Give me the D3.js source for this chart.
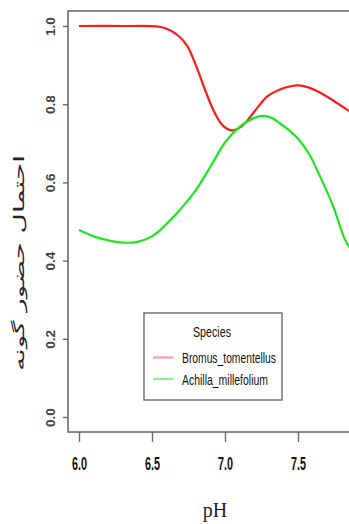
<!DOCTYPE html>
<html>
<head>
<meta charset="utf-8">
<script src="https://cdn.jsdelivr.net/npm/d3@7"></script>
<style>
  html, body { margin: 0; padding: 0; background: #fff; overflow: hidden; }
  svg { display: block; }
</style>
</head>
<body>
<svg id="chart" width="349" height="524"></svg>
<script>
// Predicted occurrence probability of two species along a pH gradient
const speciesNames = ["Bromus_tomentellus", "Achilla_millefolium"];
const speciesColors = ["#ff1a1a", "#1ee61e"];
const legendColors = ["#ff9a9a", "#8fee8f"];

const bromusPH  = [6.0, 6.3, 6.55, 6.62, 6.68, 6.74, 6.8, 6.86, 6.92, 6.97, 7.01, 7.05, 7.1, 7.15, 7.22, 7.29, 7.38, 7.45, 7.5, 7.57, 7.65, 7.73, 7.82, 7.86];
const bromusProb = [1.0, 1.0, 0.998, 0.99, 0.975, 0.95, 0.9, 0.84, 0.785, 0.752, 0.738, 0.733, 0.74, 0.757, 0.79, 0.82, 0.838, 0.846, 0.848, 0.843, 0.83, 0.812, 0.79, 0.78];

const achillaPH  = [6.0, 6.1, 6.2, 6.3, 6.4, 6.5, 6.55, 6.6, 6.67, 6.75, 6.8, 6.9, 7.0, 7.1, 7.2, 7.26, 7.32, 7.38, 7.45, 7.51, 7.58, 7.65, 7.74, 7.82, 7.86];
const achillaProb = [0.478, 0.462, 0.452, 0.446, 0.448, 0.462, 0.476, 0.494, 0.521, 0.556, 0.58, 0.64, 0.702, 0.742, 0.765, 0.77, 0.765, 0.75, 0.73, 0.708, 0.67, 0.616, 0.54, 0.455, 0.43];

const xTicks = [6.0, 6.5, 7.0, 7.5];
const yTicks = [0.0, 0.2, 0.4, 0.6, 0.8, 1.0];
const xTitle = "pH";
const yTitle = "احتمال حضور گونه";
const legendTitle = "Species";

const svg = d3.select("#chart");

const frameLeft = 68, frameTop = 11, frameBottom = 432, frameRight = 362;
const x = d3.scaleLinear().domain([6.0, 7.5]).range([79, 298]);
const y = d3.scaleLinear().domain([0, 1]).range([417, 26]);

const axisColor = "#6a6a6a";

// clip for curves
svg.append("defs").append("clipPath").attr("id", "plotClip")
  .append("rect").attr("x", frameLeft).attr("y", frameTop)
  .attr("width", frameRight - frameLeft).attr("height", frameBottom - frameTop);

// plot frame
svg.append("rect")
  .attr("x", frameLeft).attr("y", frameTop)
  .attr("width", frameRight - frameLeft).attr("height", frameBottom - frameTop)
  .attr("fill", "none").attr("stroke", axisColor).attr("stroke-width", 1.6);

// y axis ticks
const yAxis = d3.axisLeft(y).tickValues(yTicks).tickSize(5).tickFormat(d3.format(".1f"));
const gy = svg.append("g").attr("transform", `translate(${frameLeft},0)`).call(yAxis);
gy.select(".domain").remove();
gy.selectAll(".tick line").attr("stroke", axisColor).attr("stroke-width", 1.4);
gy.selectAll(".tick text")
  .attr("x", 0).attr("dy", null)
  .attr("transform", "translate(-13,0) rotate(-90)")
  .attr("text-anchor", "middle")
  .attr("font-family", "Liberation Sans, Arial, sans-serif")
  .attr("font-size", 13.5)
  .attr("font-weight", "bold")
  .attr("fill", "#444");

// x axis ticks
const xAxis = d3.axisBottom(x).tickValues(xTicks).tickSize(10).tickFormat(d3.format(".1f"));
const gx = svg.append("g").attr("transform", `translate(0,${frameBottom})`).call(xAxis);
gx.select(".domain").remove();
gx.selectAll(".tick line").attr("stroke", axisColor).attr("stroke-width", 1.4);
gx.selectAll(".tick text")
  .attr("y", 38).attr("dy", null)
  .attr("font-family", "Liberation Sans Narrow, Liberation Sans, Arial, sans-serif")
  .attr("font-size", 18)
  .attr("font-weight", "bold")
  .attr("fill", "#111")
  .attr("textLength", 15)
  .attr("lengthAdjust", "spacingAndGlyphs");

// curves
const line = d3.line().x(d => x(d[0])).y(d => y(d[1])).curve(d3.curveCatmullRom.alpha(0.5));
const seriesData = [
  d3.zip(bromusPH, bromusProb),
  d3.zip(achillaPH, achillaProb)
];
svg.append("g").attr("clip-path", "url(#plotClip)")
  .selectAll("path").data(seriesData).join("path")
  .attr("d", line)
  .attr("fill", "none")
  .attr("stroke", (d, i) => speciesColors[i])
  .attr("stroke-width", 2.2)
  .attr("stroke-linejoin", "round");

// legend
const lg = svg.append("g");
lg.append("rect").attr("x", 144).attr("y", 313).attr("width", 138).attr("height", 87)
  .attr("fill", "#fff").attr("stroke", axisColor).attr("stroke-width", 1.4);
lg.append("text").attr("x", 212).attr("y", 337).attr("text-anchor", "middle")
  .attr("font-family", "Liberation Sans Narrow, Liberation Sans, Arial, sans-serif")
  .attr("font-size", 15).attr("fill", "#111")
  .attr("textLength", 38).attr("lengthAdjust", "spacingAndGlyphs")
  .text(legendTitle);
const textLens = [94, 86];
speciesNames.forEach((name, i) => {
  const yy = 357.5 + i * 21.5;
  lg.append("line").attr("x1", 153).attr("x2", 173).attr("y1", yy).attr("y2", yy)
    .attr("stroke", legendColors[i]).attr("stroke-width", 2.2);
  lg.append("text").attr("x", 182).attr("y", yy + 5.5)
    .attr("font-family", "Liberation Sans Narrow, Liberation Sans, Arial, sans-serif")
    .attr("font-size", 15).attr("fill", "#111")
    .attr("textLength", textLens[i]).attr("lengthAdjust", "spacingAndGlyphs")
    .text(name);
});

// axis titles
svg.append("text").attr("x", 215).attr("y", 517).attr("text-anchor", "middle")
  .attr("font-family", "Liberation Serif, Times New Roman, serif")
  .attr("font-size", 20).attr("fill", "#1b1b3a")
  .text(xTitle);

svg.append("text")
  .attr("transform", "translate(24,263) rotate(-90)")
  .attr("text-anchor", "middle")
  .attr("font-family", "DejaVu Sans, Noto Sans, sans-serif")
  .attr("font-size", 15).attr("fill", "#222230")
  .attr("direction", "rtl")
  .attr("textLength", 216).attr("lengthAdjust", "spacingAndGlyphs")
  .text(yTitle);
</script>
</body>
</html>
